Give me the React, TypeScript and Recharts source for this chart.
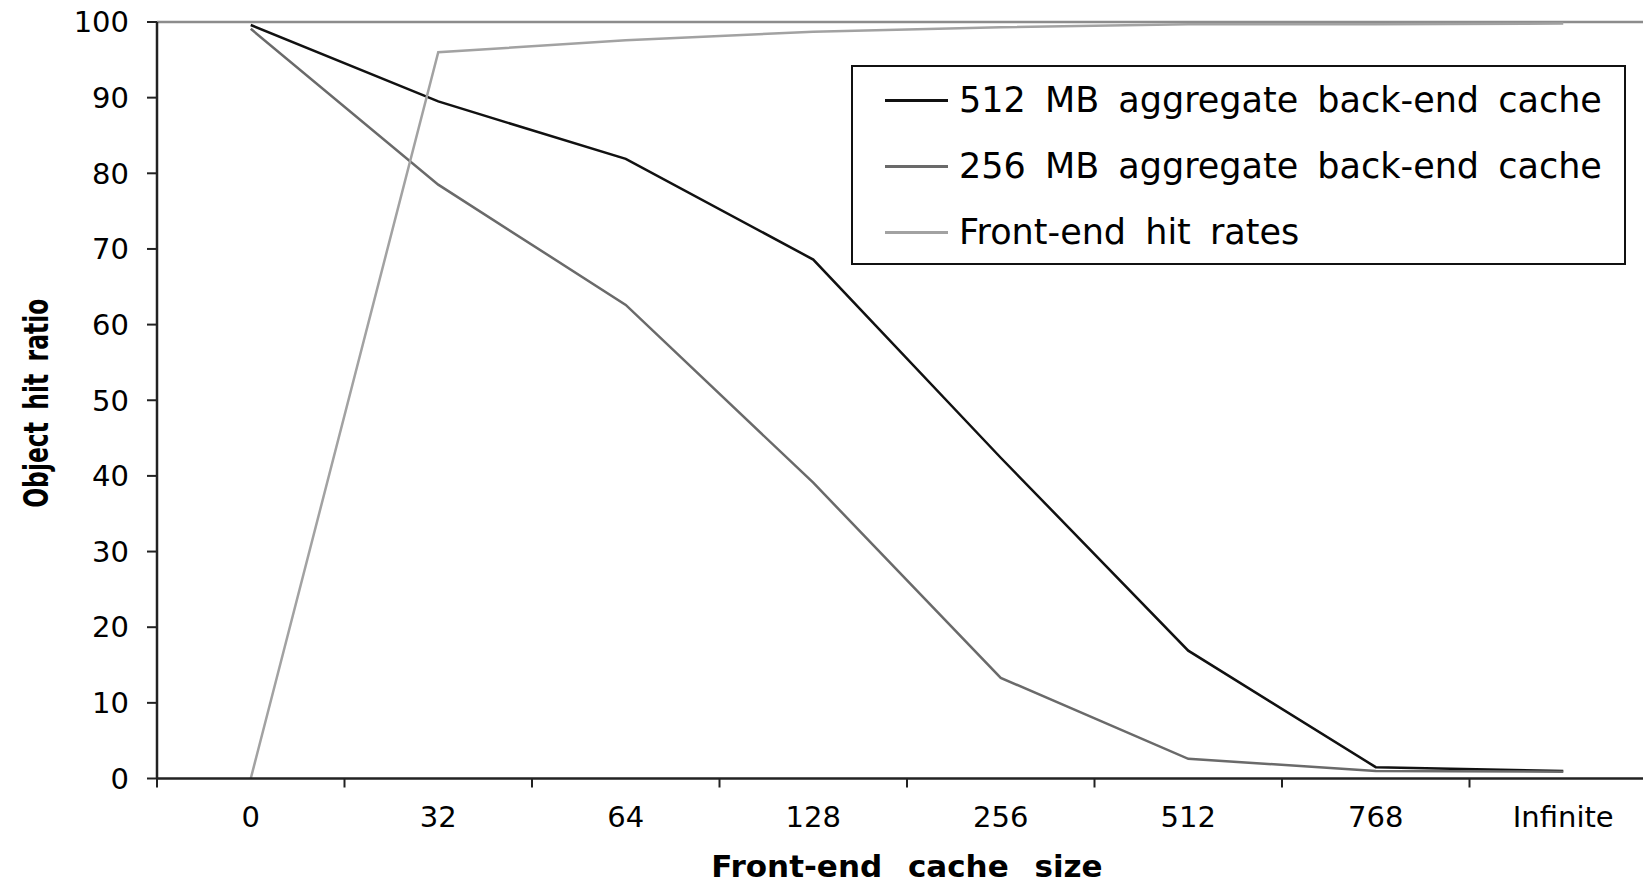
import React from 'react';
import { LineChart, Line, XAxis, YAxis, ReferenceLine } from 'recharts';

const categories = ['0', '32', '64', '128', '256', '512', '768', 'Infinite'];
const backend512 = [99.6, 89.5, 81.9, 68.6, 42.4, 16.9, 1.5, 1.0];
const backend256 = [99.1, 78.5, 62.6, 39.1, 13.3, 2.6, 1.0, 0.9];
const frontend = [0, 96.0, 97.6, 98.7, 99.3, 99.7, 99.7, 99.8];
const yTicks = [0, 10, 20, 30, 40, 50, 60, 70, 80, 90, 100];

const seriesNames = [
  '512 MB aggregate back-end cache',
  '256 MB aggregate back-end cache',
  'Front-end hit rates',
];
const seriesKeys = ['b512', 'b256', 'fe'];
const seriesColors = ['#111111', '#6a6a6a', '#a2a2a2'];

const data = categories.map((c, i) => ({
  size: c,
  b512: backend512[i],
  b256: backend256[i],
  fe: frontend[i],
}));

const FONT = '"DejaVu Sans", "Liberation Sans", Arial, sans-serif';
const X_TICK_SIZE = 9;
const X_TICK_MARGIN = 19;

const CatTick = (props: any) => {
  const { x, y, payload, index, visibleTicksCount } = props;
  const half = payload && typeof payload.offset === 'number' && payload.offset > 0 ? payload.offset : 93.75;
  const axisY = y - X_TICK_MARGIN - X_TICK_SIZE;
  const isLast = index === visibleTicksCount - 1;
  return (
    <g>
      <line x1={x - half} x2={x - half} y1={axisY} y2={axisY + X_TICK_SIZE} stroke="#222" strokeWidth={2} />
      {isLast && (
        <line x1={x + half} x2={x + half} y1={axisY} y2={axisY + X_TICK_SIZE} stroke="#222" strokeWidth={2} />
      )}
      <text
        x={x}
        y={y}
        dy="0.71em"
        textAnchor="middle"
        style={{ fontFamily: FONT, fontSize: 29, fill: '#000' }}
      >
        {payload.value}
      </text>
    </g>
  );
};

const XTitle = (props: any) => {
  const vb = props.viewBox || { x: 157, y: 778, width: 1500, height: 60 };
  return (
    <text
      x={vb.x + vb.width / 2}
      y={vb.y + 87}
      textAnchor="middle"
      dominantBaseline="central"
      style={{ fontFamily: FONT, fontWeight: 'bold', fontSize: 31, fill: '#000', wordSpacing: 15 }}
    >
      Front-end cache size
    </text>
  );
};

const YTitle = (props: any) => {
  const vb = props.viewBox || { x: 0, y: 22, width: 157, height: 756 };
  const cx = 36;
  const cy = vb.y + vb.height / 2 + 3;
  return (
    <g transform={`translate(${cx}, ${cy}) rotate(-90) scale(0.71, 1)`}>
      <text
        x={0}
        y={0}
        textAnchor="middle"
        dominantBaseline="central"
        style={{
          fontFamily: FONT,
          fontWeight: 'bold',
          fontSize: 33,
          fill: '#000',
          wordSpacing: 6,
        }}
      >
        Object hit ratio
      </text>
    </g>
  );
};

export default function App() {
  return (
    <div
      style={{
        position: 'fixed',
        left: 0,
        top: 0,
        width: 1643,
        height: 882,
        overflow: 'hidden',
        background: '#fff',
      }}
    >
      <LineChart
        width={1720}
        height={882}
        data={data}
        margin={{ top: 22, right: 63, left: 0, bottom: 43.5 }}
      >
        <XAxis
          dataKey="size"
          scale="band"
          height={60}
          axisLine={{ stroke: '#222', strokeWidth: 2.5 }}
          tickLine={false}
          tickSize={X_TICK_SIZE}
          tickMargin={X_TICK_MARGIN}
          tick={<CatTick />}
          interval={0}
          label={<XTitle />}
        />
        <YAxis
          domain={[0, 100]}
          ticks={yTicks}
          width={157}
          interval={0}
          axisLine={{ stroke: '#222', strokeWidth: 2.5 }}
          tickLine={{ stroke: '#222', strokeWidth: 2 }}
          tickSize={10}
          tickMargin={18}
          tick={{ fontFamily: FONT, fontSize: 29, fill: '#000' }}
          label={<YTitle />}
        />
        <ReferenceLine y={100} stroke="#8c8c8c" strokeWidth={2.5} />
        {seriesKeys.map((k, i) => (
          <Line
            key={k}
            type="linear"
            dataKey={k}
            name={seriesNames[i]}
            stroke={seriesColors[i]}
            strokeWidth={2.5}
            dot={false}
            activeDot={false}
            isAnimationActive={false}
          />
        ))}
      </LineChart>
      <div
        style={{
          position: 'absolute',
          left: 851,
          top: 65,
          width: 775,
          height: 200,
          boxSizing: 'border-box',
          border: '2px solid #111',
          background: '#fff',
          fontFamily: FONT,
        }}
      >
        {seriesNames.map((n, i) => (
          <div
            key={n}
            style={{ height: 66, display: 'flex', alignItems: 'center' }}
          >
            <div
              style={{
                marginLeft: 32,
                width: 63,
                height: 0,
                borderTop: `3px solid ${seriesColors[i]}`,
              }}
            />
            <span
              style={{
                marginLeft: 11,
                fontSize: 35,
                color: '#000',
                whiteSpace: 'pre',
                wordSpacing: 8,
              }}
            >
              {n}
            </span>
          </div>
        ))}
      </div>
    </div>
  );
}
